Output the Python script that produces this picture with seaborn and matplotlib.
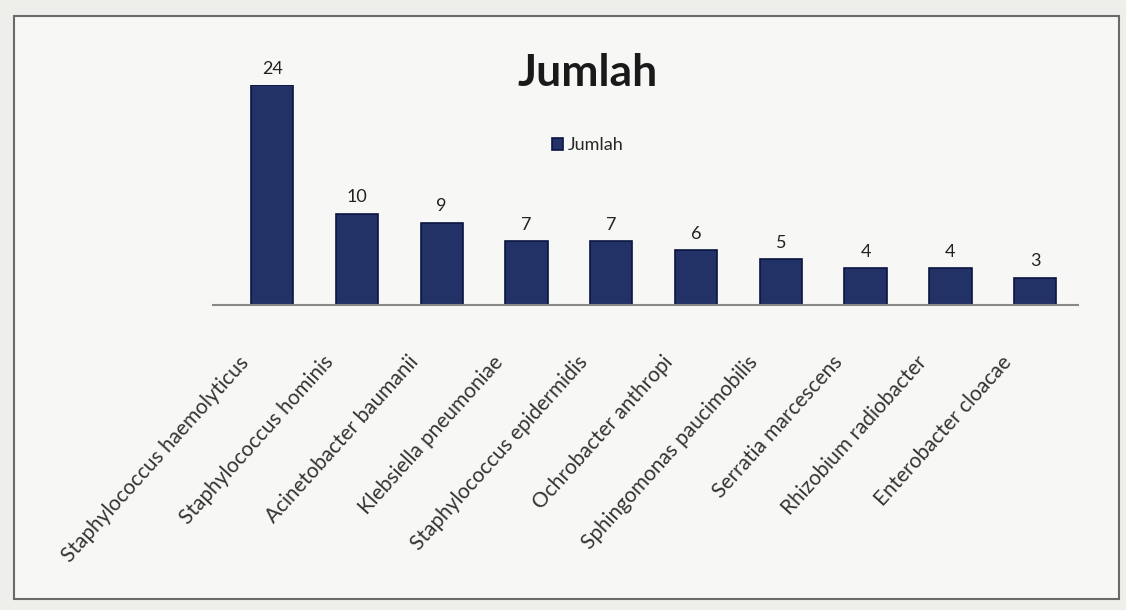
import matplotlib
matplotlib.use("Agg")
import matplotlib.pyplot as plt
import matplotlib.transforms as mtransforms
import seaborn as sns
import pandas as pd
from matplotlib.patches import Rectangle

categories = ["Staphylococcus haemolyticus", "Staphylococcus hominis", "Acinetobacter baumanii",
              "Klebsiella pneumoniae", "Staphylococcus epidermidis", "Ochrobacter anthropi",
              "Sphingomonas paucimobilis", "Serratia marcescens", "Rhizobium radiobacter",
              "Enterobacter cloacae"]
values = [24, 10, 9, 7, 7, 6, 5, 4, 4, 3]
series_name = "Jumlah"

df = pd.DataFrame({"Bakteri": categories, "Jumlah": values})

sns.set_theme(style="white")
plt.rcParams['font.family'] = ['Lato', 'DejaVu Sans']

fig = plt.figure(figsize=(11.26, 6.10), dpi=100, facecolor="#eeeeeb")
fig.patches.append(Rectangle((0.012, 0.018), 0.982, 0.955, transform=fig.transFigure,
                             facecolor="#f7f7f5", edgecolor="#6a6a6a", linewidth=1.5, zorder=-5))
ax = fig.add_axes([0.189, 0.5, 0.768, 0.36])
ax.set_zorder(2)
ax.set_facecolor("none")

sns.barplot(data=df, x="Bakteri", y="Jumlah", color="#172c72", width=0.5,
            edgecolor="#0b1640", linewidth=1.2, ax=ax, label=series_name)

for i, v in enumerate(values):
    ax.text(i, v + 0.9, str(v), ha="center", va="bottom", fontsize=13, color="#222222")

ax.set_ylim(0, 24)
ax.set_xlim(-0.7, 9.5)
ax.set_yticks([])
ax.set_xlabel("")
ax.set_ylabel("")
for s in ["left", "right", "top"]:
    ax.spines[s].set_visible(False)
ax.spines["bottom"].set_color("#888888")
ax.spines["bottom"].set_linewidth(1.5)
ax.tick_params(axis="x", length=0, pad=34)
ax.set_xticks(range(len(categories)))
ax.set_xticklabels(categories, rotation=48, ha="right", rotation_mode="anchor",
                   fontsize=15, color="#333333")
offset = mtransforms.ScaledTranslation(-0.34, 0, fig.dpi_scale_trans)
for lbl in ax.get_xticklabels():
    lbl.set_transform(lbl.get_transform() + offset)

fig.text(0.522, 0.88, "Jumlah", ha="center", va="center", fontsize=32,
         fontweight="bold", color="#1a1a1a", zorder=3)
leg = ax.legend(loc="center", bbox_to_anchor=(0.522, 0.762), bbox_transform=fig.transFigure,
                frameon=False, fontsize=13, handlelength=0.6, handleheight=0.6,
                handletextpad=0.3)

fig.savefig("out.png", dpi=100, facecolor=fig.get_facecolor())
